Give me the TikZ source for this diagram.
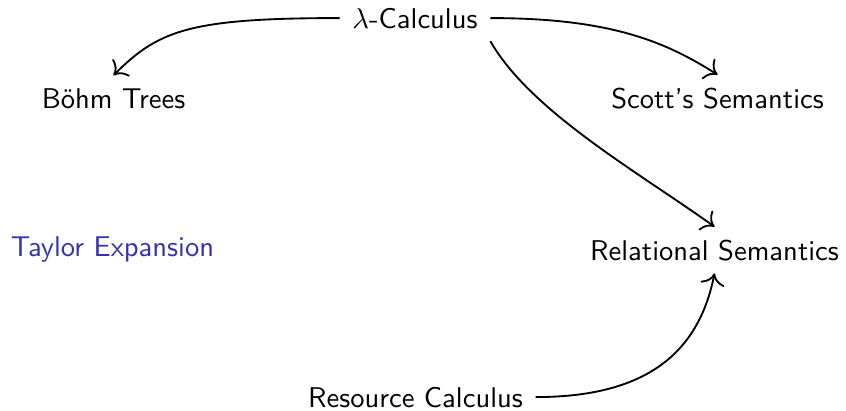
\documentclass[tikz,border=0pt]{standalone}
\usetikzlibrary{cd}
\definecolor{structblue}{RGB}{51,51,178}
\tikzset{
  lbl/.style={inner sep=4.3pt, font=\sffamily, anchor=base},
  arr/.style={draw, line width=0.65pt, -cm to},
}
\begin{document}
\begin{tikzpicture}[x=0.35pt,y=0.35pt]
\useasboundingbox (0,0) rectangle (846,410);
\node[lbl] (lam) at (415,382) {$\lambda$-Calculus};
\node[lbl] (bohm) at (113.5,302) {Böhm Trees};
\node[lbl] (scott) at (717.5,302) {Scott's Semantics};
\node[lbl, text=structblue] (taylor) at (112.5,154) {Taylor Expansion};
\node[lbl] (rel) at (714.5,150) {Relational Semantics};
\node[lbl] (res) at (415.5,3) {Resource Calculus};
\draw[arr] (lam.west) .. controls +(-150,0) and +(45,45) .. (bohm.north);
\draw[arr] (lam.east) .. controls +(120,0) and +(-52,33) .. (scott.north);
\draw[arr] (lam.south east) .. controls +(40,-70) and +(-77,55) .. (rel.north);
\draw[arr] (res.east) .. controls +(110,0) and +(-16,-80) .. (rel.south);
\end{tikzpicture}
\end{document}
